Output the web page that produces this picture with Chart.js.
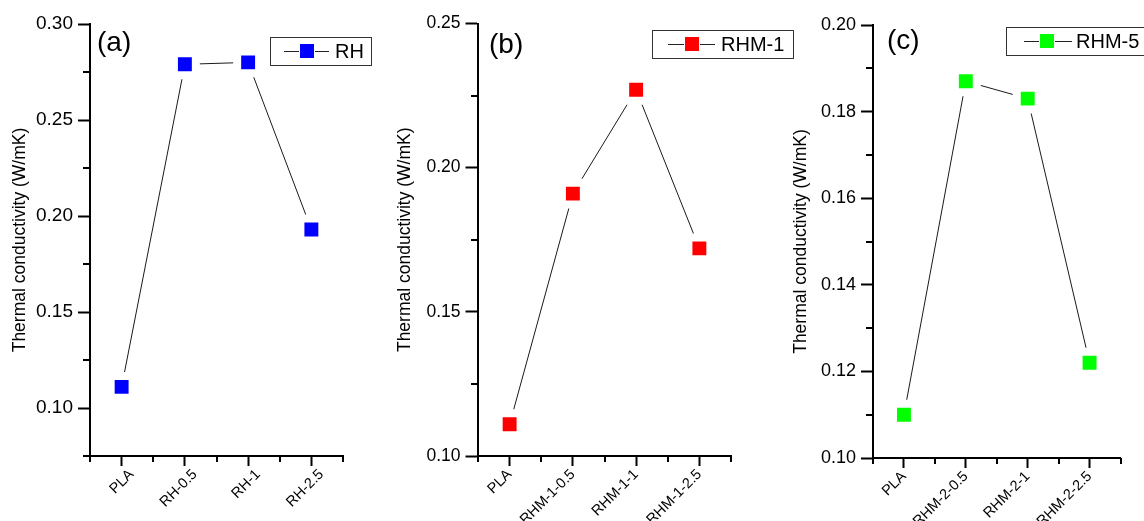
<!DOCTYPE html>
<html lang="en">
<head>
<meta charset="UTF-8">
<title>Thermal conductivity</title>
<script src="https://cdn.jsdelivr.net/npm/chart.js@4.4.0/dist/chart.umd.min.js"></script>
<style>
    html, body { margin: 0; padding: 0; background: #fff; overflow: hidden; }
    .panel { position: absolute; top: 0; }
</style>
</head>
<body>
<canvas id="chartA" class="panel" width="380" height="521" style="left:0px"></canvas>
<canvas id="chartB" class="panel" width="440" height="521" style="left:380px"></canvas>
<canvas id="chartC" class="panel" width="380" height="521" style="left:764px"></canvas>

<script>
'use strict';

const FONT = 'Arial, "Liberation Sans", sans-serif';
const yTitle = 'Thermal conductivity (W/mK)';

// samples on the x axis (1..4), with minor ticks halfway between
const xMajor = [1, 2, 3, 4];
const xMinor = [0.5, 1.5, 2.5, 3.5, 4.5];

const categoriesA = ['PLA', 'RH-0.5', 'RH-1', 'RH-2.5'];
const valuesA = [0.111, 0.279, 0.280, 0.193];
const yMajorA = [0.10, 0.15, 0.20, 0.25, 0.30];
const yMinorA = [0.075, 0.125, 0.175, 0.225, 0.275];

const categoriesB = ['PLA', 'RHM-1-0.5', 'RHM-1-1', 'RHM-1-2.5'];
const valuesB = [0.111, 0.191, 0.227, 0.172];
const yMajorB = [0.10, 0.15, 0.20, 0.25];
const yMinorB = [0.125, 0.175, 0.225];

const categoriesC = ['PLA', 'RHM-2-0.5', 'RHM-2-1', 'RHM-2-2.5'];
const valuesC = [0.110, 0.187, 0.183, 0.122];
const yMajorC = [0.10, 0.12, 0.14, 0.16, 0.18, 0.20];
const yMinorC = [0.11, 0.13, 0.15, 0.17, 0.19];

// minor ticks, the panel letter and the boxed legend
const panelDecor = {
    id: 'panelDecor',
    afterDraw(chart, args, opts) {
        const ctx = chart.ctx;
        const { left, bottom } = chart.chartArea;
        const xs = chart.scales.x;
        const ys = chart.scales.y;
        ctx.save();

        ctx.strokeStyle = '#000';
        ctx.lineWidth = 2;
        ctx.beginPath();
        opts.yMinor.forEach(v => {
            const py = Math.round(ys.getPixelForValue(v));
            ctx.moveTo(left - opts.minorLen, py);
            ctx.lineTo(left, py);
        });
        xMinor.forEach(v => {
            const px = Math.round(xs.getPixelForValue(v));
            ctx.moveTo(px, bottom);
            ctx.lineTo(px, bottom + 6);
        });
        ctx.stroke();

        ctx.fillStyle = '#000';
        ctx.font = '28px ' + FONT;
        ctx.textAlign = 'left';
        ctx.textBaseline = 'middle';
        ctx.fillText(opts.tag, opts.tagX, opts.tagY);

        const lg = opts.legend;
        const ds = chart.data.datasets[0];
        const cy = lg.y + lg.h / 2;
        ctx.lineWidth = 1;
        ctx.strokeStyle = '#333';
        ctx.strokeRect(lg.x + 0.5, lg.y + 0.5, lg.w, lg.h);
        ctx.strokeStyle = '#222';
        ctx.beginPath();
        ctx.moveTo(lg.lineX0, cy + 0.5);
        ctx.lineTo(lg.markX - 8, cy + 0.5);
        ctx.moveTo(lg.markX + 8, cy + 0.5);
        ctx.lineTo(lg.lineX1, cy + 0.5);
        ctx.stroke();
        ctx.fillStyle = ds.pointBackgroundColor;
        ctx.fillRect(lg.markX - 7, cy - 7, 14, 14);
        ctx.fillStyle = '#000';
        ctx.font = '20px ' + FONT;
        ctx.fillText(ds.label, lg.textX, cy + 1);
        ctx.restore();
    }
};

function buildPanel(id, p) {
    const ctx = document.getElementById(id).getContext('2d');
    return new Chart(ctx, {
        type: 'line',
        data: {
            datasets: [{
                label: p.label,
                data: p.values.map((v, i) => ({ x: xMajor[i], y: v })),
                borderColor: '#1a1a1a',
                borderWidth: 1,
                tension: 0,
                pointStyle: 'rect',
                pointRadius: 15.5,
                pointBackgroundColor: p.color,
                pointBorderColor: '#fff',
                pointBorderWidth: 8,
                clip: false
            }]
        },
        options: {
            responsive: false,
            animation: false,
            devicePixelRatio: 1,
            events: [],
            layout: { padding: { left: 0, top: p.top, right: p.right, bottom: 0 } },
            scales: {
                x: {
                    type: 'linear',
                    min: 0.5,
                    max: 4.5,
                    afterBuildTicks: s => { s.ticks = xMajor.map(v => ({ value: v })); },
                    afterFit: s => { s.height = p.xHeight; s.paddingLeft = 0; s.paddingRight = 0; },
                    grid: { drawOnChartArea: false, tickLength: 10, tickWidth: 2, tickColor: '#000' },
                    border: { color: '#000', width: 2 },
                    ticks: {
                        autoSkip: false,
                        minRotation: 45,
                        maxRotation: 45,
                        labelOffset: p.labelShift,
                        padding: 0,
                        color: '#000',
                        font: { family: FONT, size: 14.5 },
                        callback: v => p.categories[v - 1]
                    }
                },
                y: {
                    min: p.yMin,
                    max: p.yMax,
                    afterBuildTicks: s => { s.ticks = p.yMajor.map(v => ({ value: v })); },
                    afterFit: s => { s.width = p.yWidth; s.paddingTop = 0; s.paddingBottom = 0; },
                    grid: { drawOnChartArea: false, tickLength: p.tickLen, tickWidth: 2, tickColor: '#000' },
                    border: { color: '#000', width: 2 },
                    ticks: {
                        padding: 5,
                        color: '#000',
                        font: { family: FONT, size: p.yFont },
                        callback: v => v.toFixed(2)
                    },
                    title: {
                        display: true,
                        text: yTitle,
                        color: '#000',
                        font: { family: FONT, size: 17.5 },
                        padding: { top: p.titlePad, bottom: 0 }
                    }
                }
            },
            plugins: {
                legend: { display: false },
                tooltip: { enabled: false },
                panelDecor: {
                    tag: p.tag, tagX: p.tagX, tagY: p.tagY,
                    yMinor: p.yMinor, minorLen: 7,
                    legend: p.legend
                }
            }
        },
        plugins: [panelDecor]
    });
}

buildPanel('chartA', {
    label: 'RH', color: '#0000ff',
    categories: categoriesA, values: valuesA,
    yMajor: yMajorA, yMinor: yMinorA, yMin: 0.075, yMax: 0.30,
    top: 24, right: 37, xHeight: 65, yWidth: 90,
    tickLen: 12, yFont: 19, titlePad: 9.5, labelShift: 10,
    tag: '(a)', tagX: 97, tagY: 43,
    legend: { x: 270, y: 37, w: 101, h: 28, lineX0: 284, lineX1: 329, markX: 307, textX: 335 }
});

buildPanel('chartB', {
    label: 'RHM-1', color: '#ff0000',
    categories: categoriesB, values: valuesB,
    yMajor: yMajorB, yMinor: yMinorB, yMin: 0.10, yMax: 0.25,
    top: 23, right: 89, xHeight: 65, yWidth: 98,
    tickLen: 12.5, yFont: 17.5, titlePad: 14.5, labelShift: 0,
    tag: '(b)', tagX: 109, tagY: 45,
    legend: { x: 272, y: 30, w: 141, h: 28, lineX0: 288, lineX1: 335, markX: 312, textX: 341 }
});

buildPanel('chartC', {
    label: 'RHM-5', color: '#00ff00',
    categories: categoriesC, values: valuesC,
    yMajor: yMajorC, yMinor: yMinorC, yMin: 0.10, yMax: 0.20,
    top: 25, right: 17, xHeight: 63, yWidth: 109,
    tickLen: 12, yFont: 18, titlePad: 27, labelShift: 0,
    tag: '(c)', tagX: 123, tagY: 41,
    legend: { x: 242, y: 27, w: 150, h: 28, lineX0: 260, lineX1: 308, markX: 283, textX: 312 }
});
</script>
</body>
</html>
